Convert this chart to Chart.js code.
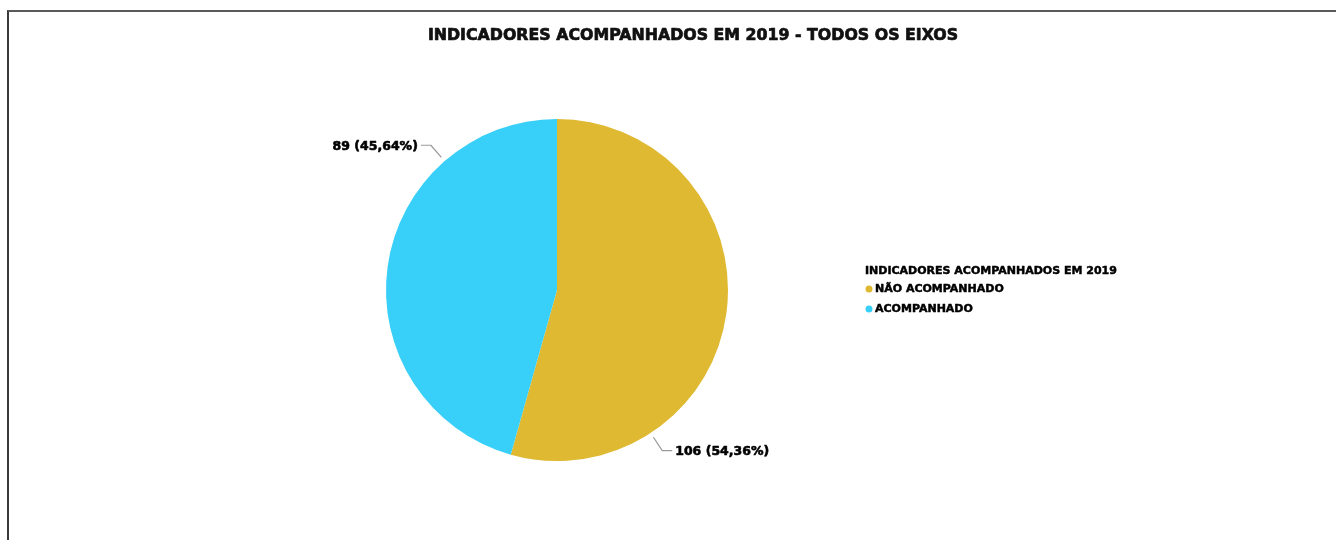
<!DOCTYPE html>
<html>
<head>
<meta charset="utf-8">
<script src="https://cdn.jsdelivr.net/npm/chart.js@4.4.1/dist/chart.umd.min.js"></script>
<style>
    html, body { margin: 0; padding: 0; background: #fff; overflow: hidden; }
    #wrap { position: relative; width: 1336px; height: 540px; }
    #frame { position: absolute; left: 7px; top: 10px; right: -4px; bottom: -4px; border-left: 2px solid #3a3a3a; border-top: 2px solid #5a5a5a; }
    canvas { position: absolute; left: 0; top: 0; }
</style>
</head>
<body>
<div id="wrap">
    <div id="frame"></div>
    <canvas id="chart" width="1336" height="540"></canvas>
</div>
<script>
/* ── Data ── */
const chartTitle = 'INDICADORES ACOMPANHADOS EM 2019 - TODOS OS EIXOS';
const legendTitle = 'INDICADORES ACOMPANHADOS EM 2019';
const categories = ['NÃO ACOMPANHADO', 'ACOMPANHADO'];
const counts = [106, 89];
const percentLabels = ['54,36%', '45,64%'];
const sliceColors = ['#E0B932', '#38CFF8'];

const FONT = '"DejaVu Sans", Arial, sans-serif';

// heavy text: fill plus a thin stroke in the same colour
function heavyText(ctx, text, x, y, color, stroke) {
    ctx.fillStyle = color;
    ctx.strokeStyle = color;
    ctx.lineWidth = stroke;
    ctx.lineJoin = 'round';
    ctx.strokeText(text, x, y);
    ctx.fillText(text, x, y);
}

/* ── Title, data labels with leader lines, legend ── */
const decorations = {
    id: 'decorations',
    afterDraw(chart) {
        const ctx = chart.ctx;
        ctx.save();

        // title
        ctx.font = `bold 15.8px ${FONT}`;
        ctx.textAlign = 'center';
        ctx.textBaseline = 'middle';
        heavyText(ctx, chartTitle, 693, 36, '#111', 0.7);

        // data labels
        const arcs = chart.getDatasetMeta(0).data;
        ctx.font = `bold 12.5px ${FONT}`;
        arcs.forEach((arc, i) => {
            const { x, y, startAngle, endAngle, outerRadius } = arc.getProps(['x', 'y', 'startAngle', 'endAngle', 'outerRadius'], true);
            const a = startAngle + (endAngle - startAngle) * 0.75;
            const cos = Math.cos(a), sin = Math.sin(a);
            const p0 = { x: x + cos * (outerRadius + 5), y: y + sin * (outerRadius + 5) };
            const p1 = { x: x + cos * (outerRadius + 21), y: y + sin * (outerRadius + 21) };
            const dir = cos >= 0 ? 1 : -1;
            const p2 = { x: p1.x + dir * 10, y: p1.y };
            ctx.strokeStyle = '#9a9a9a';
            ctx.lineWidth = 1.2;
            ctx.beginPath();
            ctx.moveTo(p0.x, p0.y);
            ctx.lineTo(p1.x, p1.y);
            ctx.lineTo(p2.x, p2.y);
            ctx.stroke();
            ctx.textAlign = dir > 0 ? 'left' : 'right';
            ctx.textBaseline = 'middle';
            heavyText(ctx, `${counts[i]} (${percentLabels[i]})`, p2.x + dir * 3, p2.y + 1, '#000', 0.6);
        });

        // legend
        ctx.textAlign = 'left';
        ctx.textBaseline = 'middle';
        ctx.font = `bold 11px ${FONT}`;
        heavyText(ctx, legendTitle, 865, 271, '#000', 0.5);
        categories.forEach((c, i) => {
            const ly = 289 + i * 20;
            ctx.fillStyle = sliceColors[i];
            ctx.beginPath();
            ctx.arc(869, ly, 3.5, 0, Math.PI * 2);
            ctx.fill();
            heavyText(ctx, c, 875, ly, '#000', 0.5);
        });

        ctx.restore();
    }
};

new Chart(document.getElementById('chart').getContext('2d'), {
    type: 'pie',
    data: {
        labels: categories,
        datasets: [{
            data: counts,
            backgroundColor: sliceColors,
            borderWidth: 0
        }]
    },
    options: {
        responsive: false,
        animation: false,
        layout: { padding: { left: 386, right: 608, top: 119, bottom: 79 } },
        plugins: {
            legend: { display: false },
            title: { display: false },
            tooltip: { enabled: false }
        }
    },
    plugins: [decorations]
});
</script>
</body>
</html>
